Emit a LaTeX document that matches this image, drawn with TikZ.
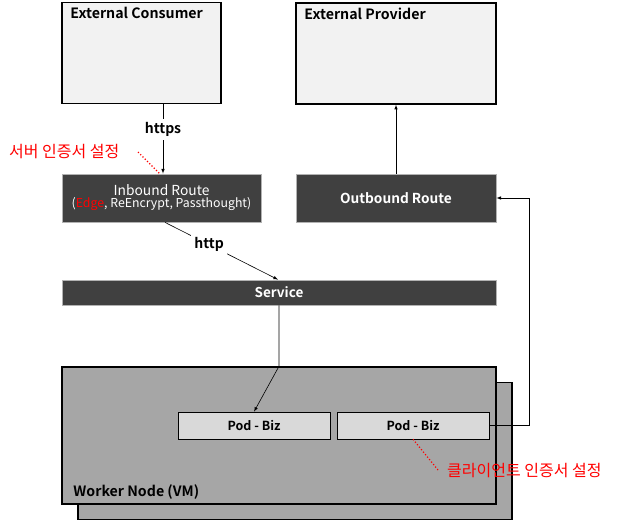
\documentclass[tikz,border=0pt]{standalone}
\usepackage{fontspec}
\setmainfont{Noto Sans CJK KR}[BoldFont={Noto Sans CJK KR Bold}]
\usepackage{xcolor}
\usetikzlibrary{positioning, arrows}
\definecolor{lightbox}{HTML}{F2F2F2}
\definecolor{darkbox}{HTML}{404040}
\definecolor{nodegray}{HTML}{A6A6A6}
\definecolor{podgray}{HTML}{D9D9D9}
\tikzstyle{external} = [rectangle, minimum width=159pt, minimum height=101pt, draw=black, line width=1.5pt, fill=lightbox]
\tikzstyle{route} = [rectangle, minimum width=199pt, minimum height=48pt, draw=gray!60, line width=0.8pt, fill=darkbox, text=white, align=center, inner sep=0pt]
\tikzstyle{worker} = [rectangle, minimum width=434pt, minimum height=137pt, draw=black, line width=1.5pt, fill=nodegray]
\tikzstyle{pod} = [rectangle, minimum width=152pt, minimum height=27pt, draw=black, line width=0.6pt, fill=podgray, font=\fontsize{12.5}{14}\selectfont\bfseries]
\tikzstyle{title} = [anchor=north west, font=\fontsize{14.2}{16}\selectfont\bfseries, inner sep=0pt]
\tikzstyle{note} = [red, dotted, line width=1.2pt]
\tikzstyle{notetext} = [text=red, font=\fontsize{16}{18}\selectfont, inner sep=0pt]
\tikzstyle{arrow} = [->,>=latex, line width=0.6pt]

\begin{document}
\begin{tikzpicture}[x=1pt, y=-1pt]
			\useasboundingbox[fill=white] (0,0) rectangle (617,521);
			% Nodes
			\node (consumer) [external] at (141.5,53) {};
			\node [title] at ([shift={(9pt,-5pt)}]consumer.north west) {External Consumer};
			\node (provider) [external, minimum width=200pt] at (396,53.5) {};
			\node [title] at ([shift={(9pt,-6pt)}]provider.north west) {External Provider};
			
			\node (inbound) [route] at (161.5,198) {{\fontsize{13.8}{17}\selectfont Inbound Route}\\[0pt]{\fontsize{12.3}{14}\selectfont (\textcolor{red}{Edge}, ReEncrypt, Passthought)}};
			\node (outbound) [route, minimum width=200pt] at (396,198) {\fontsize{13.7}{15}\selectfont\bfseries Outbound Route};
			\node (service) [route, minimum width=434pt, minimum height=25pt, font=\fontsize{13.5}{14}\selectfont\bfseries] at (279,292.5) {Service};
			
			\node (workerback) [worker] at (295,451) {};
			\node (worker) [worker] at (279,435.5) {};
			\node [title, anchor=south west] at ([shift={(12pt,5pt)}]worker.south west) {Worker Node (VM)};
			\node (pod_a) [pod] at (254,425.5) {Pod - Biz};
			\node (pod_b) [pod] at (413,425.5) {Pod - Biz};
			
			\node (servernote) [notetext, anchor=west] at (9,152) {서버 인증서 설정};
			\node (clientnote) [notetext, anchor=west] at (447,471) {클라이언트 인증서 설정};
			\coordinate (drop) at (service.south |- worker.north);
			
			% Arrows
			\draw [arrow] ([xshift=21.5pt]consumer.south) -- node[pos=0.36, fill=white, font=\fontsize{14}{15}\selectfont\bfseries] {https} ([xshift=1.5pt]inbound.north);
			\draw [arrow] (outbound.north) -- (provider.south);
			\draw [arrow] ([xshift=3.5pt]inbound.south) -- node[pos=0.39, fill=white, font=\fontsize{14}{15}\selectfont\bfseries] {http} ([xshift=-1pt]service.north);
			\draw [arrow] (service.south) -- (drop) -- (pod_a.north);
			\draw [arrow] (pod_b.east) -- ++(40,0) |- (outbound.east);
			
			% Notes
			\draw [note] (138,152) -- ([xshift=-2pt]inbound.north);
			\draw [note] (pod_b.south) -- ([xshift=-9pt, yshift=1pt]clientnote.west);
		\end{tikzpicture}
\end{document}
